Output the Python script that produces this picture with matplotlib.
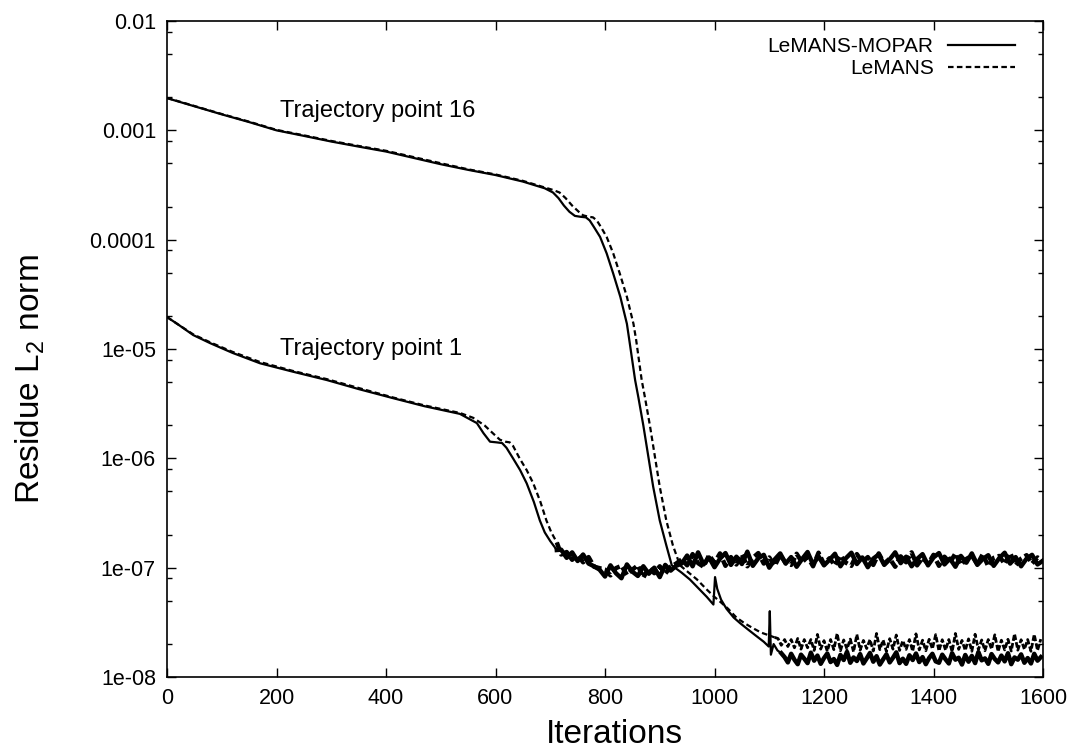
import numpy as np
import matplotlib
matplotlib.use("Agg")
import matplotlib.pyplot as plt
from matplotlib.ticker import FixedLocator, FixedFormatter, NullLocator

plt.rcParams['font.family'] = ['Liberation Sans', 'DejaVu Sans']
plt.rcParams['mathtext.default'] = 'regular'

# ---------------- data ----------------
series_names = ["LeMANS-MOPAR", "LeMANS"]
curve_labels = ["Trajectory point 16", "Trajectory point 1"]

# Trajectory point 16, LeMANS-MOPAR (solid)
t16_solid_iter = [0, 50, 100, 150, 200, 250, 300, 350, 400, 450,
                  500, 550, 600, 650, 690, 705, 715, 725, 735, 745,
                  755, 765, 772, 780, 791, 803, 815, 828, 840, 845,
                  855, 861, 870, 876, 888, 900, 912, 922, 940, 955,
                  973, 986, 998, 1001, 1005, 1012, 1022, 1035, 1047, 1060,
                  1075, 1090, 1099, 1101, 1103, 1108, 1115, 1122]
t16_solid_res = [1.97e-3, 1.66e-3, 1.40e-3, 1.19e-3, 1.0e-3, 8.9e-4, 7.9e-4, 7.1e-4, 6.4e-4, 5.6e-4,
                 4.9e-4, 4.35e-4, 3.9e-4, 3.4e-4, 2.95e-4, 2.7e-4, 2.4e-4, 2.05e-4, 1.8e-4, 1.65e-4,
                 1.62e-4, 1.6e-4, 1.5e-4, 1.3e-4, 1.06e-4, 7.5e-5, 4.9e-5, 3.0e-5, 1.7e-5, 1.15e-5,
                 5.2e-6, 3.6e-6, 2.0e-6, 1.3e-6, 5.5e-7, 2.7e-7, 1.6e-7, 1.05e-7, 9.0e-8, 7.8e-8,
                 6.3e-8, 5.4e-8, 4.6e-8, 8.2e-8, 6.4e-8, 5.1e-8, 4.2e-8, 3.5e-8, 3.1e-8, 2.75e-8,
                 2.4e-8, 2.1e-8, 1.9e-8, 4.0e-8, 1.6e-8, 2.0e-8, 1.75e-8, 1.65e-8]
t16_solid_tail_iter = np.arange(1128, 1601, 6)
t16_solid_tail_res = [1.52, 1.36, 1.63, 1.44, 1.31, 1.60, 1.47, 1.34, 1.67, 1.41,
                      1.57, 1.32, 1.49, 1.64, 1.37, 1.46, 1.29, 1.59, 1.43, 1.70,
                      1.35, 1.51, 1.40, 1.62, 1.33, 1.48, 1.66, 1.38, 1.55, 1.30,
                      1.45, 1.61, 1.36, 1.50, 1.68, 1.34, 1.47, 1.32, 1.58, 1.43,
                      1.64, 1.37, 1.52, 1.31, 1.49, 1.63, 1.39, 1.35, 1.60, 1.45,
                      1.33, 1.65, 1.44, 1.50, 1.30, 1.59, 1.38, 1.56, 1.34, 1.69,
                      1.42, 1.48, 1.32, 1.62, 1.46, 1.36, 1.57, 1.39, 1.65, 1.31,
                      1.51, 1.44, 1.61, 1.35, 1.49, 1.33, 1.63, 1.41, 1.52]  # x 1e-8

# Trajectory point 16, LeMANS (dashed)
t16_dash_iter = [0, 50, 100, 150, 200, 250, 300, 350, 400, 450,
                 500, 550, 600, 650, 690, 705, 717, 728, 740, 752,
                 760, 770, 778, 785, 792, 803, 815, 827, 840, 852,
                 857, 867, 873, 882, 888, 900, 912, 924, 937, 953,
                 968, 986, 1000, 1012, 1025, 1040, 1055, 1070, 1085, 1100,
                 1110]
t16_dash_res = [1.98e-3, 1.67e-3, 1.41e-3, 1.2e-3, 1.01e-3, 9.0e-4, 8.0e-4, 7.2e-4, 6.5e-4, 5.7e-4,
                5.0e-4, 4.4e-4, 3.95e-4, 3.45e-4, 3.0e-4, 2.85e-4, 2.7e-4, 2.4e-4, 2.05e-4, 1.8e-4,
                1.67e-4, 1.62e-4, 1.6e-4, 1.5e-4, 1.32e-4, 1.06e-4, 7.5e-5, 4.9e-5, 3.0e-5, 1.7e-5,
                1.2e-5, 5.2e-6, 3.6e-6, 2.0e-6, 1.3e-6, 5.5e-7, 2.7e-7, 1.6e-7, 1.05e-7, 9.0e-8,
                7.8e-8, 6.3e-8, 5.4e-8, 4.8e-8, 4.2e-8, 3.5e-8, 3.1e-8, 2.8e-8, 2.55e-8, 2.4e-8,
                2.3e-8]
t16_dash_tail_iter = np.arange(1116, 1601, 6)
t16_dash_tail_res = [2.25, 1.95, 2.2, 1.9, 2.2, 1.85, 2.25, 1.8, 2.2, 1.85,
                     2.2, 1.75, 2.45, 1.8, 2.15, 1.72, 2.2, 1.78, 2.5, 1.74,
                     2.18, 1.8, 2.22, 1.7, 2.45, 1.76, 2.16, 1.82, 2.2, 1.73,
                     2.5, 1.78, 2.18, 1.71, 2.24, 1.8, 2.42, 1.75, 2.15, 1.79,
                     2.2, 1.72, 2.48, 1.77, 2.17, 1.74, 2.21, 1.81, 2.44, 1.73,
                     2.19, 1.76, 2.2, 1.7, 2.5, 1.79, 2.16, 1.75, 2.23, 1.72,
                     2.46, 1.78, 2.18, 1.74, 2.2, 1.8, 2.43, 1.71, 2.17, 1.77,
                     2.21, 1.73, 2.48, 1.76, 2.19, 1.79, 2.2, 1.72, 2.45, 1.75,
                     2.22]  # x 1e-8

# Trajectory point 1, LeMANS-MOPAR (solid)
t1_solid_iter = [0, 20, 48, 79, 120, 170, 230, 292, 350, 413,
                 470, 535, 566, 578, 590, 602, 612, 620, 632, 645,
                 657, 670, 681, 690, 700, 712]
t1_solid_res = [1.96e-5, 1.68e-5, 1.34e-5, 1.13e-5, 9.2e-6, 7.4e-6, 6.2e-6, 5.2e-6, 4.3e-6, 3.55e-6,
                3.0e-6, 2.55e-6, 2.1e-6, 1.7e-6, 1.42e-6, 1.4e-6, 1.38e-6, 1.25e-6, 1.0e-6, 7.8e-7,
                5.9e-7, 4.0e-7, 2.7e-7, 2.1e-7, 1.75e-7, 1.45e-7]
t1_tail_iter = np.arange(720, 1601, 10)
t1_solid_tail_res = [14.6, 12.3, 13.8, 11.5, 13.2, 10.9, 10.3, 9.6,
                     8.3, 10.5, 8.9, 8.0, 10.7, 9.2, 8.4, 10.3, 8.8, 10.0, 8.2, 10.6, 9.4, 10.4,
                     10.9, 12.9, 10.3, 13.8, 10.7, 12.4, 10.1, 12.1, 13.6, 10.6,
                     12.6, 10.8, 14.0, 10.4, 12.2, 13.1, 10.0, 11.9, 13.5, 10.9,
                     12.5, 10.2, 12.0, 13.9, 10.7, 12.7, 10.5, 11.8, 13.4, 10.3,
                     12.2, 13.7, 10.8, 12.4, 10.1, 12.1, 13.2, 10.6, 11.9, 13.8,
                     11.0, 12.6, 10.3, 12.0, 13.3, 10.5, 12.4, 13.6, 10.7, 12.1,
                     10.2, 12.8, 11.1, 13.5, 10.6, 12.0, 13.0, 10.4, 12.2, 13.7,
                     10.9, 12.5, 10.3, 12.1, 13.1, 10.7, 11.6]  # x 1e-8

# Trajectory point 1, LeMANS (dashed)
t1_dash_iter = [0, 20, 48, 79, 120, 170, 230, 292, 350, 413,
                470, 535, 559, 580, 595, 608, 618, 626, 632, 644,
                657, 669, 682, 693, 702, 712]
t1_dash_res = [1.96e-5, 1.68e-5, 1.36e-5, 1.15e-5, 9.4e-6, 7.6e-6, 6.3e-6, 5.3e-6, 4.4e-6, 3.6e-6,
               3.05e-6, 2.6e-6, 2.35e-6, 2.0e-6, 1.7e-6, 1.48e-6, 1.42e-6, 1.4e-6, 1.3e-6, 1.0e-6,
               7.8e-7, 5.9e-7, 4.0e-7, 2.7e-7, 2.1e-7, 1.7e-7]
t1_dash_tail_res = [13.2, 13.9, 11.8, 13.1, 11.2, 12.5, 10.2, 9.9,
                    9.6, 8.5, 9.9, 10.4, 8.6, 9.6, 10.5, 8.1, 10.0, 8.9, 10.3, 8.8, 10.2, 10.9,
                    11.9, 10.5, 13.3, 11.0, 10.2, 13.0, 11.1, 13.5, 10.4, 12.5,
                    10.7, 13.2, 10.3, 12.3, 13.6, 10.9, 12.4, 10.4, 13.1, 11.0,
                    10.6, 13.4, 11.2, 12.6, 10.3, 13.7, 10.8, 12.2, 10.5, 12.9,
                    11.1, 10.4, 13.3, 11.3, 12.5, 10.6, 13.5, 10.9, 12.1, 10.2,
                    12.7, 11.2, 13.8, 10.5, 12.3, 10.8, 13.1, 10.4, 12.6, 11.1,
                    13.5, 10.6, 12.0, 12.9, 10.7, 13.3, 10.3, 12.3, 12.8, 10.8,
                    13.6, 10.5, 12.1, 13.0, 10.9, 12.4, 11.5]  # x 1e-8

ytick_values = [1e-2, 1e-3, 1e-4, 1e-5, 1e-6, 1e-7, 1e-8]
ytick_labels = ["0.01", "0.001", "0.0001", "1e-05", "1e-06", "1e-07", "1e-08"]
xtick_values = [0, 200, 400, 600, 800, 1000, 1200, 1400, 1600]

# ---------------- plotting ----------------
fig = plt.figure(figsize=(10.74, 7.49), dpi=100)
ax = fig.add_axes([167/1074, 1 - 677/749, 876/1074, 656/749])

lw = 1.6
lw_noisy = 3.2
dash = (0, (2.5, 1.5))
SC = 1e-8


def smooth_and_tail(it, res, tail_it, tail_res, style, label=None, tail_lw=lw_noisy):
    it = np.asarray(it, float)
    res = np.asarray(res, float)
    tail_it = np.asarray(tail_it, float)
    tail_res = np.asarray(tail_res, float) * SC
    ax.plot(it, res, color='black', lw=lw, ls=style, label=label)
    ax.plot(np.concatenate([it[-1:], tail_it]), np.concatenate([res[-1:], tail_res]),
            color='black', lw=tail_lw, ls='-' if style == '-' else (0, (2.0, 0.8)))


smooth_and_tail(t1_solid_iter, t1_solid_res, t1_tail_iter, t1_solid_tail_res, '-')
smooth_and_tail(t1_dash_iter, t1_dash_res, t1_tail_iter, t1_dash_tail_res, dash)
smooth_and_tail(t16_solid_iter, t16_solid_res, t16_solid_tail_iter, t16_solid_tail_res, '-',
                series_names[0])
smooth_and_tail(t16_dash_iter, t16_dash_res, t16_dash_tail_iter, t16_dash_tail_res, dash,
                series_names[1], tail_lw=2.0)

ax.set_yscale('log')
ax.set_xlim(0, 1600)
ax.set_ylim(1e-8, 1e-2)

ax.xaxis.set_major_locator(FixedLocator(xtick_values))
ax.xaxis.set_minor_locator(NullLocator())
ax.yaxis.set_major_locator(FixedLocator(ytick_values))
ax.yaxis.set_major_formatter(FixedFormatter(ytick_labels))
ax.yaxis.set_minor_locator(FixedLocator(
    [m * 10.0**e for e in range(-8, -2) for m in (2, 5, 8)]))
ax.yaxis.set_minor_formatter(FixedFormatter([]))

ax.tick_params(which='both', direction='in', top=True, right=True, labelsize=15.5, colors='black')
ax.tick_params(which='major', length=6.5, width=1.0, pad=8)
ax.tick_params(which='minor', length=3.5, width=1.0)
for s in ax.spines.values():
    s.set_linewidth(1.2)

ax.text(206, 1.5e-3, curve_labels[0], fontsize=17, ha='left', va='center')
ax.text(206, 1.0e-5, curve_labels[1], fontsize=17, ha='left', va='center')

ax.set_xlabel("Iterations", fontsize=24)
ax.set_ylabel("Residue L$_2$ norm", fontsize=24)
ax.xaxis.set_label_coords(0.511, -0.088)
ax.xaxis.label.set_va('center')
ax.yaxis.set_label_coords(-0.156, 0.454)
ax.yaxis.label.set_va('center')

leg = ax.legend(loc='upper right', bbox_to_anchor=(0.968, 0.975), frameon=False,
                markerfirst=False, fontsize=15, handlelength=3.2, handletextpad=0.7,
                labelspacing=0.12, borderpad=0, borderaxespad=0)

fig.savefig("out.png", dpi=100)
